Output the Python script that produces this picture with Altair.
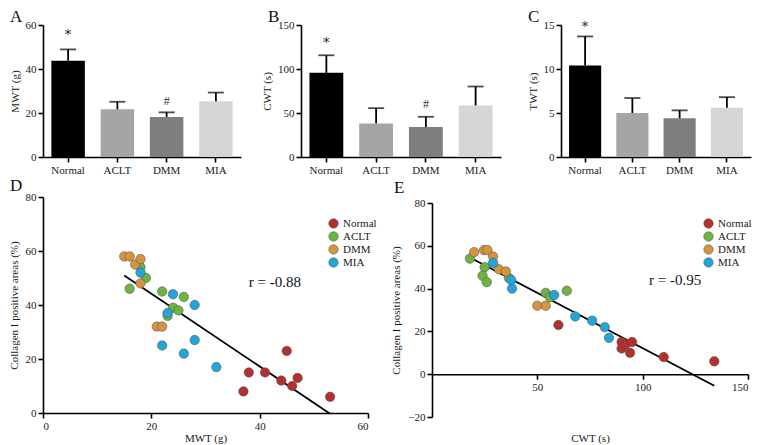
import altair as alt
import pandas as pd

FONT = "Liberation Serif"
STAR_FONT = "DejaVu Serif"

groups = ["Normal", "ACLT", "DMM", "MIA"]
bar_colors = ["#000000", "#a5a5a7", "#7e7e7e", "#d6d6d6"]
dot_colors = ["#b3302c", "#6db443", "#d79440", "#23a6d7"]

# Bar panels: mean and SD per group
mwt_mean = [43.8, 21.7, 18.2, 25.3]
mwt_sd = [5.1, 3.4, 2.1, 4.0]
cwt_mean = [95.6, 38.2, 34.0, 58.6]
cwt_sd = [20.0, 17.3, 11.7, 21.5]
twt_mean = [10.4, 5.0, 4.4, 5.6]
twt_sd = [3.3, 1.7, 0.9, 1.2]

# significance marks: group, y, symbol
a_mark_groups = ["Normal", "DMM"]
a_mark_y = [55.5, 25.5]
a_mark_text = ["*", "#"]
b_mark_groups = ["Normal", "DMM"]
b_mark_y = [130, 60]
b_mark_text = ["*", "#"]
c_mark_groups = ["Normal"]
c_mark_y = [14.8]
c_mark_text = ["*"]

# Scatter D: MWT (g) vs Collagen I positive areas (%)
d_normal_x = [37, 38, 41, 44, 45, 46, 47, 53]
d_normal_y = [8, 15, 15, 12, 23, 10, 13, 6]
d_aclt_x = [16, 18, 19, 22, 24, 26, 25, 23]
d_aclt_y = [46, 54, 50, 45, 39, 43, 38, 36]
d_dmm_x = [15, 16, 17, 18, 18, 21, 22]
d_dmm_y = [58, 58, 55, 57, 48, 32, 32]
d_mia_x = [18, 22, 23, 24, 26, 28, 28, 32]
d_mia_y = [52, 25, 37, 44, 22, 40, 27, 17]

# Scatter E: CWT (s) vs Collagen I positive areas (%)
e_normal_x = [60, 90, 90, 92, 95, 94, 110, 134]
e_normal_y = [23, 15, 12, 14, 15, 10, 8, 6]
e_aclt_x = [18, 25, 24, 26, 54, 56, 64, 36.5]
e_aclt_y = [54, 50, 46, 43, 38, 36, 39, 45]
e_dmm_x = [20, 24.7, 26.3, 29, 31.8, 35.1, 50, 54]
e_dmm_y = [57, 58, 58, 55, 49, 48, 32, 32]
e_mia_x = [29, 37.6, 38, 58, 68, 76, 82, 84]
e_mia_y = [52, 44, 40, 37, 27, 25, 22, 17]


def letter_title(letter, dx, offset):
    return alt.TitleParams(letter, anchor="start", frame="group", dx=dx, offset=offset,
                           font=FONT, fontSize=17, fontWeight="normal", color="#111")


def bar_panel(letter, ytitle, means, sds, ymax, yticks, mg, my, mt, width, height):
    df = pd.DataFrame({"group": groups, "mean": means,
                       "upper": [m + s for m, s in zip(means, sds)]})
    xscale = alt.Scale(paddingInner=0.32, paddingOuter=0.17)
    xenc = alt.X("group:N", sort=groups, title=None, scale=xscale,
                 axis=alt.Axis(labelAngle=0, labelPadding=2))
    yscale = alt.Scale(domain=[0, ymax], nice=False)
    base = alt.Chart(df)
    bars = base.mark_bar().encode(
        x=xenc,
        y=alt.Y("mean:Q", scale=yscale, title=ytitle,
                axis=alt.Axis(values=yticks, titlePadding=5)),
        color=alt.Color("group:N", scale=alt.Scale(domain=groups, range=bar_colors), legend=None),
    )
    stem = base.mark_rule(color="black", strokeWidth=1.8).encode(
        x=alt.X("group:N", sort=groups), y="mean:Q", y2="upper:Q")
    cap = base.mark_tick(color="black", thickness=1.8, size=16).encode(
        x=alt.X("group:N", sort=groups), y="upper:Q")
    mdf = pd.DataFrame({"group": mg, "y": my, "t": mt})
    stars = alt.Chart(mdf).transform_filter(alt.datum.t == "*").mark_text(
        fontSize=13, font=STAR_FONT, color="#222").encode(
        x=alt.X("group:N", sort=groups), y="y:Q", text="t:N")
    hashes = alt.Chart(mdf).transform_filter(alt.datum.t == "#").mark_text(
        fontSize=12, font=FONT, color="#333").encode(
        x=alt.X("group:N", sort=groups), y="y:Q", text="t:N")
    return alt.layer(bars, stem, cap, stars, hashes).properties(
        width=width, height=height, title=letter_title(letter, -33, -7))


def scatter_df(xs, ys):
    rows = []
    for g, xv, yv in zip(groups, xs, ys):
        for a, b in zip(xv, yv):
            rows.append({"grp": g, "x": a, "y": b})
    return pd.DataFrame(rows)


def scatter_panel(letter, xtitle, df, xdom, ydom, yticks, yrange, r_text, r_x, r_y,
                  width, height, legend_x, xaxis, letter_dx, letter_off):
    xenc = alt.X("x:Q", scale=alt.Scale(domain=xdom, nice=False), title=xtitle, axis=xaxis)
    yenc = alt.Y("y:Q", scale=alt.Scale(domain=ydom, nice=False, range=yrange),
                 title="Collagen I positive areas (%)",
                 axis=alt.Axis(values=yticks, titlePadding=6))
    line = alt.Chart(df).transform_regression("x", "y").mark_line(
        color="black", strokeWidth=1.8, clip=True).encode(x=xenc, y=yenc)
    pts = alt.Chart(df).mark_circle(size=90, opacity=1, stroke="#4a4a4a", strokeWidth=0.5).encode(
        x=xenc, y=yenc,
        color=alt.Color("grp:N", sort=groups,
                        scale=alt.Scale(domain=groups, range=dot_colors),
                        legend=alt.Legend(title=None, orient="none", legendX=legend_x, legendY=21,
                                          symbolType="circle", symbolSize=90,
                                          symbolStrokeColor="#4a4a4a", symbolStrokeWidth=0.5,
                                          labelFont=FONT, labelFontSize=11, rowPadding=0,
                                          labelOffset=4, labelColor="#1a1a1a")),
    )
    tdf = pd.DataFrame({"x": [r_x], "y": [r_y], "t": [r_text]})
    txt = alt.Chart(tdf).mark_text(align="left", baseline="middle", fontSize=15, font=FONT,
                                   color="#111").encode(x="x:Q", y="y:Q", text="t:N")
    return alt.layer(line, pts, txt).properties(
        width=width, height=height, title=letter_title(letter, letter_dx, letter_off))


A = bar_panel("A", "MWT (g)", mwt_mean, mwt_sd, 60, [0, 20, 40, 60],
              a_mark_groups, a_mark_y, a_mark_text, 198, 132)
B = bar_panel("B", "CWT (s)", cwt_mean, cwt_sd, 150, [0, 50, 100, 150],
              b_mark_groups, b_mark_y, b_mark_text, 200, 132)
C = bar_panel("C", "TWT (s)", twt_mean, twt_sd, 15, [0, 5, 10, 15],
              c_mark_groups, c_mark_y, c_mark_text, 190, 132)

d_df = scatter_df([d_normal_x, d_aclt_x, d_dmm_x, d_mia_x],
                  [d_normal_y, d_aclt_y, d_dmm_y, d_mia_y])
e_df = scatter_df([e_normal_x, e_aclt_x, e_dmm_x, e_mia_x],
                  [e_normal_y, e_aclt_y, e_dmm_y, e_mia_y])

D_H = 216
E_H = 220
E_TOP = 6
e_zero = E_H - 0.2 * (E_H - E_TOP)
D = scatter_panel("D", "MWT (g)", d_df, [0, 60], [0, 80], [0, 20, 40, 60, 80], [D_H, 0],
                  "r = -0.88", 38, 48.5, 325, D_H, 285,
                  alt.Axis(values=[0, 20, 40, 60], titlePadding=1), -33, -4)
E = scatter_panel("E", "CWT (s)", e_df, [0, 150], [-20, 80],
                  [-20, 0, 20, 40, 60, 80], [E_H, E_TOP],
                  "r = -0.95", 103, 44, 316, E_H, 271,
                  alt.Axis(values=[50, 100, 150], offset=-(E_H - e_zero), titleY=58,
                           titleBaseline="top"), -38, 0)

row1 = alt.hconcat(A, B, C, spacing=60, bounds="flush").resolve_scale(color="independent")
row2 = alt.hconcat(D, E, spacing=64, bounds="flush").resolve_scale(color="independent")

chart = alt.vconcat(row1, row2, spacing=172, bounds="flush").resolve_scale(
    color="independent").properties(
    padding=0
).configure_view(stroke=None).configure_axis(
    domainColor="black", domainWidth=1.6, tickColor="black", tickWidth=1.6, tickSize=5,
    labelFont=FONT, titleFont=FONT, labelFontSize=11, titleFontSize=11,
    titleFontWeight="normal", labelColor="#1a1a1a", titleColor="#1a1a1a", grid=False,
    labelPadding=2,
)

chart.save("out.html", embed_options={"renderer": "svg", "actions": False})
